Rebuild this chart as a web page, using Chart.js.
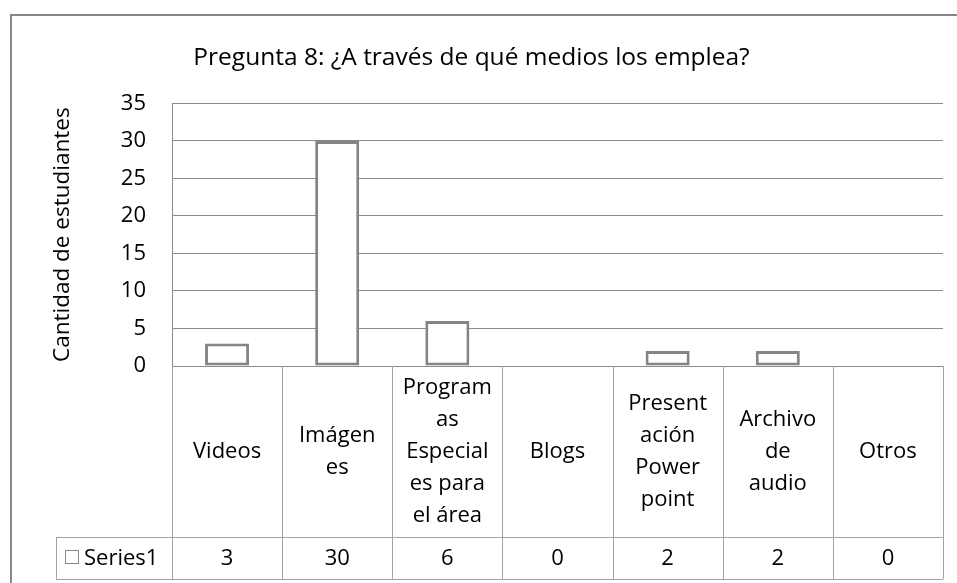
<!DOCTYPE html>
<html>
<head>
<meta charset="utf-8">
<script src="https://cdn.jsdelivr.net/npm/chart.js@4"></script>
<style>
  body { margin: 0; background: #fff; }
  canvas { display: block; }
</style>
</head>
<body>
<canvas id="barChart" width="957" height="583"></canvas>
<script>
// data
var categories = [
  ["Videos"],
  ["Imágen", "es"],
  ["Program", "as", "Especial", "es para", "el área"],
  ["Blogs"],
  ["Present", "ación", "Power", "point"],
  ["Archivo", "de", "audio"],
  ["Otros"]
];
var seriesName = "Series1";
var series1 = [3, 30, 6, 0, 2, 2, 0];
var yMin = 0, yMax = 35, yStep = 5;

var FONT = "'Open Sans', 'Noto Sans', sans-serif";
var lineGrey = "#8a8a8a";
var tableGrey = "#a3a3a3";

// outer frame + data table under the plot
var tablePlugin = {
  id: 'dataTable',
  afterDraw: function (chart) {
    var ctx = chart.ctx;
    var area = chart.chartArea;
    var x = chart.scales.x;
    var n = categories.length;
    var rowTop = area.bottom, rowMid = 537, rowBot = 579, legLeft = 56;

    ctx.save();
    // frame
    ctx.strokeStyle = "#878787";
    ctx.lineWidth = 2;
    ctx.beginPath();
    ctx.moveTo(11, 583);
    ctx.lineTo(11, 15);
    ctx.lineTo(957, 15);
    ctx.stroke();

    // table lines
    ctx.strokeStyle = tableGrey;
    ctx.lineWidth = 1;
    ctx.beginPath();
    var edges = [area.left];
    for (var i = 1; i < n; i++) {
      edges.push((x.getPixelForValue(i - 1) + x.getPixelForValue(i)) / 2);
    }
    edges.push(area.right);
    edges.forEach(function (ex) {
      ex = Math.round(ex) + 0.5;
      ctx.moveTo(ex, rowTop);
      ctx.lineTo(ex, rowBot);
    });
    ctx.moveTo(legLeft, rowMid + 0.5);
    ctx.lineTo(area.right, rowMid + 0.5);
    ctx.moveTo(legLeft, rowBot + 0.5);
    ctx.lineTo(area.right, rowBot + 0.5);
    ctx.moveTo(legLeft + 0.5, rowMid);
    ctx.lineTo(legLeft + 0.5, rowBot);
    ctx.stroke();

    // text
    ctx.fillStyle = "#000";
    ctx.font = "22px " + FONT;
    ctx.textAlign = "center";
    ctx.textBaseline = "middle";
    var lh = 32;
    var catMid = (rowTop + rowMid) / 2;
    categories.forEach(function (lines, i) {
      var cx = x.getPixelForValue(i);
      var y0 = catMid - (lines.length - 1) * lh / 2;
      lines.forEach(function (t, j) {
        ctx.fillText(t, cx, y0 + j * lh);
      });
      ctx.fillText(String(series1[i]), cx, (rowMid + rowBot) / 2 + 1);
    });

    // legend key + series name
    ctx.strokeStyle = lineGrey;
    ctx.fillStyle = "#fff";
    ctx.fillRect(65.5, 550.5, 13, 13);
    ctx.strokeRect(65.5, 550.5, 13, 13);
    ctx.fillStyle = "#000";
    ctx.textAlign = "left";
    ctx.fillText(seriesName, 84, (rowMid + rowBot) / 2 + 1);
    ctx.restore();
  }
};

var ctxB = document.getElementById("barChart").getContext('2d');
var myBarChart = new Chart(ctxB, {
  type: 'bar',
  data: {
    labels: categories,
    datasets: [{
      label: seriesName,
      data: series1,
      backgroundColor: "#ffffff",
      borderColor: "#858585",
      borderWidth: 3,
      borderSkipped: false,
      barPercentage: 0.4,
      categoryPercentage: 1
    }]
  },
  options: {
    responsive: false,
    animation: false,
    layout: { padding: { top: 0, left: 0, right: 14, bottom: 217 } },
    plugins: {
      legend: { display: false },
      tooltip: { enabled: false },
      title: {
        display: true,
        text: "Pregunta 8: ¿A través de qué medios los emplea?",
        color: "#000",
        font: { family: FONT, size: 24.5, weight: 'normal' },
        padding: { top: 43, bottom: 31 }
      }
    },
    scales: {
      x: {
        grid: { display: false, drawTicks: false },
        ticks: { display: false },
        border: { display: false },
        afterFit: function (s) { s.height = 0; }
      },
      y: {
        min: yMin,
        max: yMax,
        ticks: {
          stepSize: yStep,
          padding: 26,
          color: "#000",
          font: { family: FONT, size: 22 }
        },
        grid: { color: lineGrey, lineWidth: 1, drawTicks: false },
        border: { display: true, color: lineGrey, width: 1 },
        title: {
          display: true,
          text: "Cantidad de estudiantes",
          color: "#000",
          font: { family: FONT, size: 22.5, weight: 'normal' },
          padding: { top: 49, bottom: 0 }
        },
        afterFit: function (s) { s.width = 172; }
      }
    }
  },
  plugins: [tablePlugin]
});
</script>
</body>
</html>
